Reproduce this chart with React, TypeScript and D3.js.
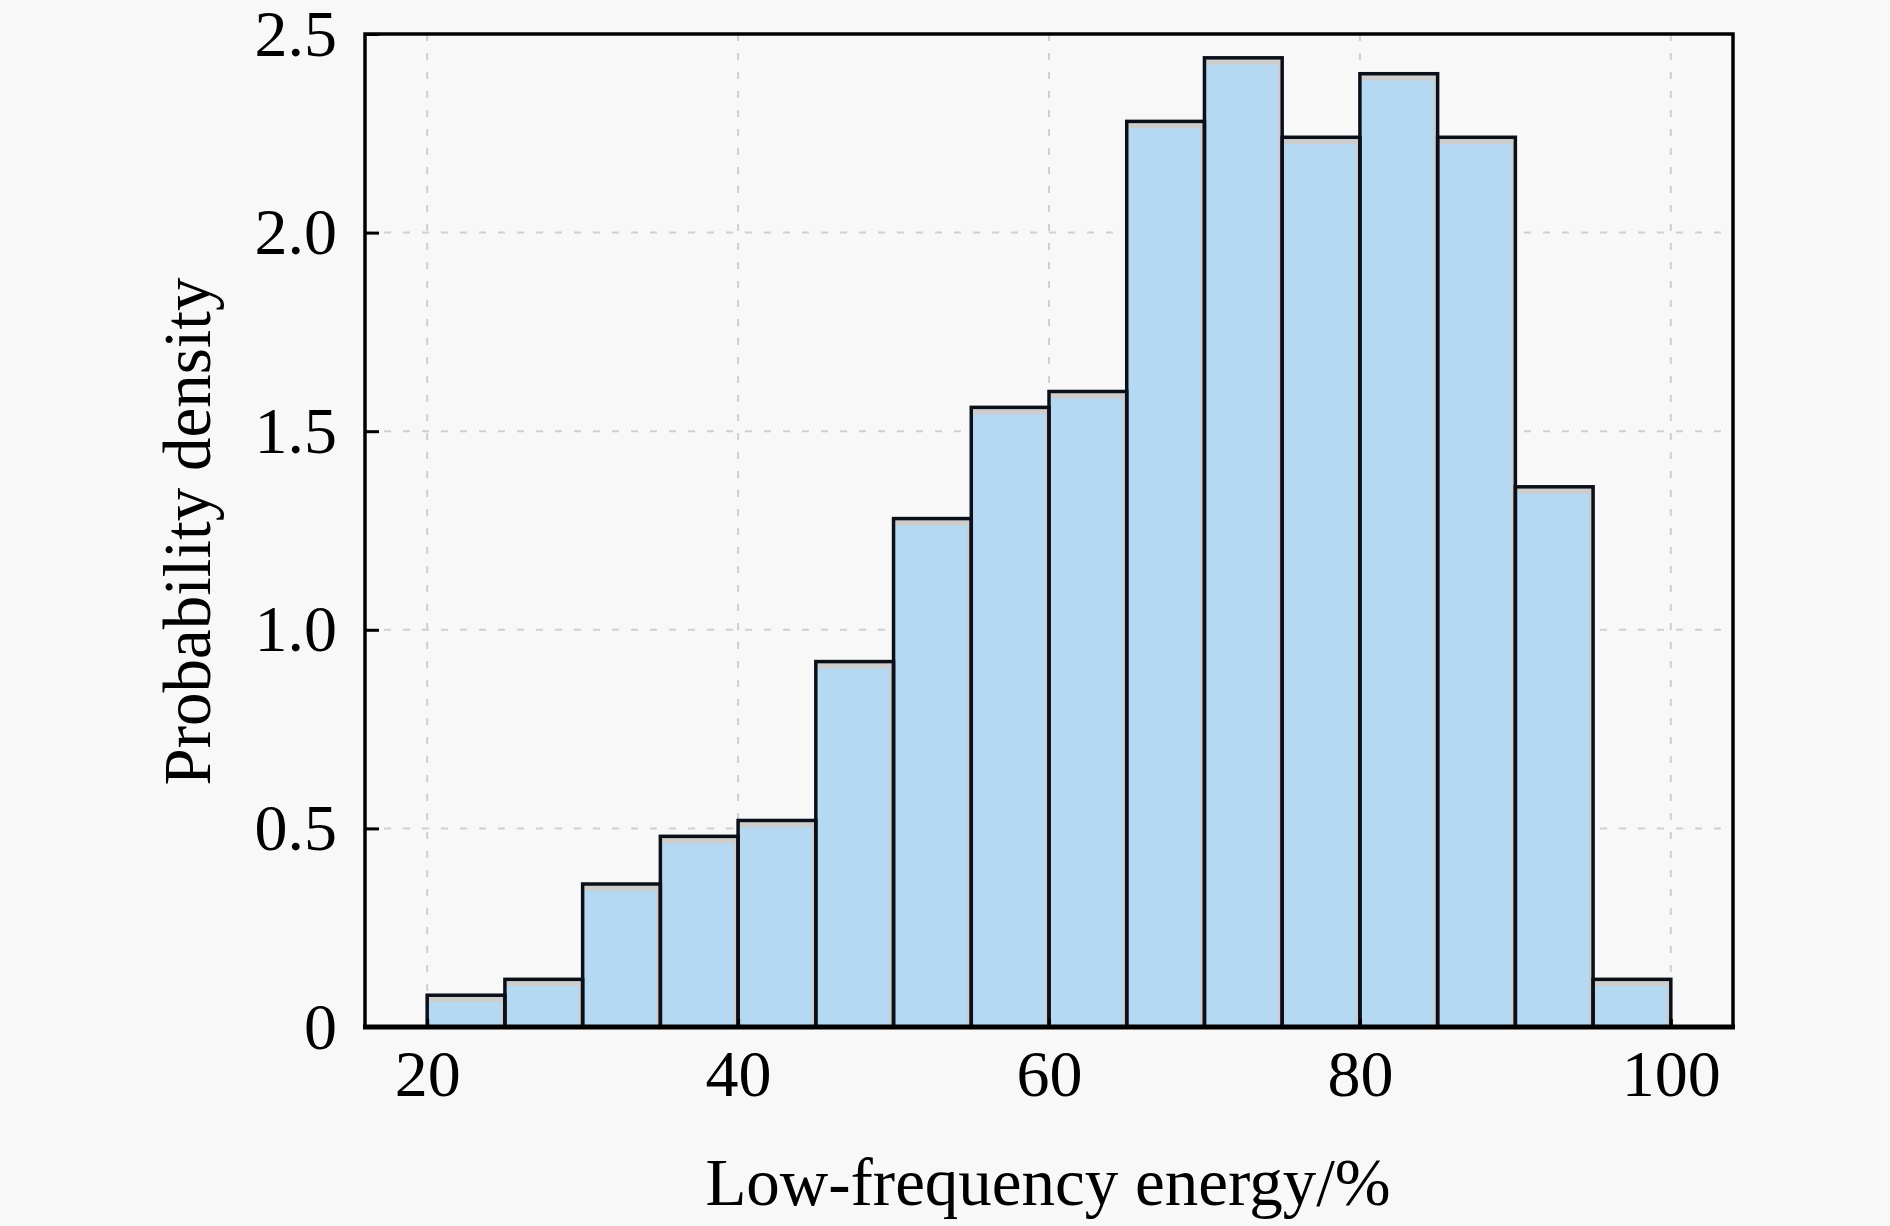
import * as d3 from 'd3';
import React, { useEffect, useRef } from 'react';

// histogram bins (left edges, width 5) and densities
const binStarts = [20, 25, 30, 35, 40, 45, 50, 55, 60, 65, 70, 75, 80, 85, 90, 95];
const binWidth = 5;
const densities = [0.08, 0.12, 0.36, 0.48, 0.52, 0.92, 1.28, 1.56, 1.6, 2.28, 2.44, 2.24, 2.4, 2.24, 1.36, 0.12];
const xTicks = [20, 40, 60, 80, 100];
const yTicks = [0, 0.5, 1.0, 1.5, 2.0, 2.5];

export default () => {
    const ref = useRef<any>();

    useEffect(() => {
        document.body.style.margin = '0';
        document.body.style.background = '#f8f8f8';

        const width = 1890;
        const height = 1226;
        const margin = { top: 34, right: 157, bottom: 199, left: 365 };
        const innerW = width - margin.left - margin.right;
        const innerH = height - margin.top - margin.bottom;
        const font = '"Liberation Serif", "Times New Roman", serif';

        const svg = d3.select<any, any>(ref.current)
            .attr('width', width)
            .attr('height', height)
            .style('display', 'block')
            .style('background', '#f8f8f8');
        svg.selectAll('*').remove();

        const stage = svg.append('g')
            .attr('transform', `translate(${margin.left},${margin.top})`);

        const x = d3.scaleLinear().domain([16, 104]).range([0, innerW]);
        const y = d3.scaleLinear().domain([0, 2.5]).range([innerH, 0]);

        // grid
        const grid = stage.append('g').attr('class', 'grid');
        grid.selectAll('.gx').data(xTicks).join('line')
            .attr('x1', (d: any) => x(d)).attr('x2', (d: any) => x(d))
            .attr('y1', 0).attr('y2', innerH)
            .attr('stroke', '#cfcfcf').attr('stroke-width', 2)
            .attr('stroke-dasharray', '7,12');
        grid.selectAll('.gy').data(yTicks.filter(d => d > 0 && d < 2.5)).join('line')
            .attr('x1', 0).attr('x2', innerW)
            .attr('y1', (d: any) => y(d)).attr('y2', (d: any) => y(d))
            .attr('stroke', '#cfcfcf').attr('stroke-width', 2)
            .attr('stroke-dasharray', '7,12');

        // bars
        const bars = stage.append('g').attr('class', 'bars');
        const data = binStarts.map((s, i) => ({ s, v: densities[i] }));

        bars.selectAll('.shadow').data(data).join('rect')
            .attr('class', 'shadow')
            .attr('x', (d: any) => x(d.s))
            .attr('y', (d: any) => y(d.v))
            .attr('width', (d: any) => x(d.s + binWidth) - x(d.s))
            .attr('height', (d: any) => innerH - y(d.v))
            .attr('fill', '#cdcdcd');

        bars.selectAll('.fill').data(data).join('rect')
            .attr('class', 'fill')
            .attr('x', (d: any) => x(d.s) + 1)
            .attr('y', (d: any) => y(d.v) + 7)
            .attr('width', (d: any) => x(d.s + binWidth) - x(d.s) - 5)
            .attr('height', (d: any) => Math.max(0, innerH - y(d.v) - 7))
            .attr('fill', '#b5d8f3');

        bars.selectAll('.edge').data(data).join('rect')
            .attr('class', 'edge')
            .attr('x', (d: any) => x(d.s))
            .attr('y', (d: any) => y(d.v))
            .attr('width', (d: any) => x(d.s + binWidth) - x(d.s))
            .attr('height', (d: any) => innerH - y(d.v))
            .attr('fill', 'none')
            .attr('stroke', '#0a0f1a')
            .attr('stroke-width', 3.5);

        // frame
        stage.append('rect')
            .attr('width', innerW).attr('height', innerH)
            .attr('fill', 'none').attr('stroke', '#000').attr('stroke-width', 3.5);
        stage.append('line')
            .attr('x1', -2).attr('x2', innerW + 2)
            .attr('y1', innerH).attr('y2', innerH)
            .attr('stroke', '#000').attr('stroke-width', 5);

        // axes
        const xAxis = d3.axisBottom(x).tickValues(xTicks).tickSize(-8).tickPadding(22)
            .tickFormat((d: any) => String(d));
        const gx = stage.append('g').attr('transform', `translate(0,${innerH})`).call(xAxis);
        gx.select('.domain').remove();
        gx.selectAll('line').attr('stroke', '#000').attr('stroke-width', 3);
        gx.selectAll('text').attr('font-family', font).attr('font-size', 66).attr('fill', '#000');

        const yAxis = d3.axisLeft(y).tickValues(yTicks).tickSize(-14).tickPadding(28)
            .tickFormat((d: any) => d === 0 ? '0' : d3.format('.1f')(d));
        const gy = stage.append('g').call(yAxis);
        gy.select('.domain').remove();
        gy.selectAll('line').attr('stroke', '#000').attr('stroke-width', 3);
        gy.selectAll('text').attr('font-family', font).attr('font-size', 66).attr('fill', '#000');

        // axis titles
        svg.append('text')
            .attr('x', margin.left + innerW / 2 - 1)
            .attr('y', 1205)
            .attr('text-anchor', 'middle')
            .attr('font-family', font).attr('font-size', 67)
            .text('Low-frequency energy/%');

        svg.append('text')
            .attr('transform', `translate(210,${(232 + 650) / 2 * 1.2054}) rotate(-90)`)
            .attr('text-anchor', 'middle')
            .attr('font-family', font).attr('font-size', 67)
            .text('Probability density');
    }, []);

    return (
        <React.Fragment>
            <svg ref={ref}></svg>
        </React.Fragment>
    );
};
